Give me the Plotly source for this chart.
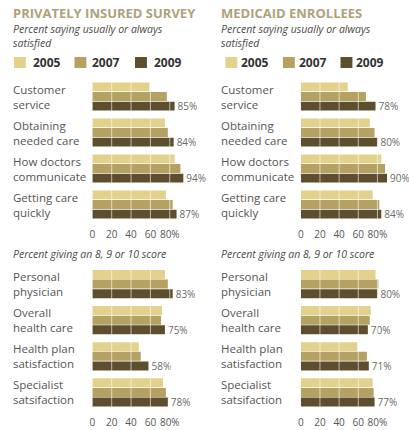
import plotly.graph_objects as go

W, H = 409, 430

years = ["2005", "2007", "2009"]
colors = ["#E2D28C", "#B5A263", "#5C4E2F"]

top_cats = ["Customer<br>service", "Obtaining<br>needed care", "How doctors<br>communicate", "Getting care<br>quickly"]
bot_cats = ["Personal<br>physician", "Overall<br>health care", "Health plan<br>satisfaction", "Specialist<br>satsifaction"]

priv_top_2005 = [59, 75, 85, 76]
priv_top_2007 = [77, 78, 91, 83]
priv_top_2009 = [85, 84, 94, 87]
med_top_2005 = [49, 72, 84, 75]
med_top_2007 = [68, 77, 88, 82]
med_top_2009 = [78, 80, 90, 84]

priv_bot_2005 = [75, 72, 48, 73]
priv_bot_2007 = [78, 71, 50, 76]
priv_bot_2009 = [83, 75, 58, 78]
med_bot_2005 = [78, 73, 59, 75]
med_bot_2007 = [81, 72, 69, 76]
med_bot_2009 = [80, 70, 71, 77]

tick_vals = [0, 20, 40, 60, 80]
tick_text = ["0", "20", "40", "60", "80%"]

titles = ["PRIVATELY INSURED SURVEY", "MEDICAID ENROLLEES"]
subtitle1 = ["Percent saying usually or always", "satisfied"]
subtitle2 = "Percent giving an 8, 9 or 10 score"

FONT = "Open Sans"
TXT = "#4a4a4a"

def px(x):
    return x / W

def py(y):
    return 1 - y / H

panels = [
    ("x", "y", top_cats, [priv_top_2005, priv_top_2007, priv_top_2009]),
    ("x2", "y2", top_cats, [med_top_2005, med_top_2007, med_top_2009]),
    ("x3", "y3", bot_cats, [priv_bot_2005, priv_bot_2007, priv_bot_2009]),
    ("x4", "y4", bot_cats, [med_bot_2005, med_bot_2007, med_bot_2009]),
]

fig = go.Figure()
for xa, ya, cats, series in panels:
    for i, (yr, vals) in enumerate(zip(years, series)):
        last = i == 2
        fig.add_trace(go.Bar(
            x=vals, y=cats, orientation="h", name=yr, xaxis=xa, yaxis=ya,
            marker=dict(color=colors[i], line=dict(width=0)),
            text=[f"{v}%" for v in vals] if last else None,
            textposition="outside" if last else "none",
            textfont=dict(family=FONT, size=10, color="#6a6a6a"),
            constraintext="none", cliponaxis=False, showlegend=False,
            hoverinfo="skip",
        ))

left_dom = [px(90), px(187.5)]
right_dom = [px(300), px(396.5)]
top_dom = [py(222.5), py(78.5)]
bot_dom = [py(410.5), py(266)]

xcommon = dict(range=[0, 100], tickvals=tick_vals, ticktext=tick_text, showgrid=False,
               zeroline=False, showline=False, ticks="outside", ticklen=2, tickcolor="rgba(0,0,0,0)",
               tickfont=dict(family=FONT, size=10, color="#555"), fixedrange=True)
ycommon = dict(autorange="reversed", showticklabels=False, showgrid=False, zeroline=False,
               showline=False, fixedrange=True)

fig.update_layout(
    width=W, height=H, margin=dict(l=0, r=0, t=0, b=0),
    paper_bgcolor="white", plot_bgcolor="white",
    barmode="group", bargap=0.2, bargroupgap=0.07,
    xaxis=dict(domain=left_dom, anchor="y", **xcommon),
    xaxis2=dict(domain=right_dom, anchor="y2", **xcommon),
    xaxis3=dict(domain=left_dom, anchor="y3", **xcommon),
    xaxis4=dict(domain=right_dom, anchor="y4", **xcommon),
    yaxis=dict(domain=top_dom, anchor="x", **ycommon),
    yaxis2=dict(domain=top_dom, anchor="x2", **ycommon),
    yaxis3=dict(domain=bot_dom, anchor="x3", **ycommon),
    yaxis4=dict(domain=bot_dom, anchor="x4", **ycommon),
    showlegend=False,
)

shapes = []
annotations = []

# grid lines over bars
for xa, ya in [("x", "y"), ("x2", "y2"), ("x3", "y3"), ("x4", "y4")]:
    for tv in tick_vals[1:]:
        shapes.append(dict(type="line", xref=xa, yref=f"{ya} domain", x0=tv, x1=tv, y0=0, y1=1,
                           line=dict(color="rgba(255,255,255,0.6)", width=1), layer="above"))

# category labels
for ya, cats, x0 in [("y", top_cats, 8), ("y2", top_cats, 218), ("y3", bot_cats, 8), ("y4", bot_cats, 218)]:
    for c in cats:
        annotations.append(dict(text=c, xref="paper", yref=ya, x=px(x0), y=c, xanchor="left",
                                yanchor="middle", align="left", showarrow=False,
                                font=dict(family=FONT, size=11.5, color="#555")))

# titles and subtitles
for k, x0 in enumerate([8, 218]):
    annotations.append(dict(text=f"<b>{titles[k]}</b>", xref="paper", yref="paper", x=px(x0), y=py(13),
                            xanchor="left", yanchor="middle", showarrow=False,
                            font=dict(family=FONT, size=13, color="#ADA27B")))
    annotations.append(dict(text="<i>" + "<br>".join(subtitle1) + "</i>", xref="paper", yref="paper",
                            x=px(x0), y=py(35.5), xanchor="left", yanchor="middle", align="left",
                            showarrow=False, font=dict(family=FONT, size=10.5, color=TXT)))
    annotations.append(dict(text=f"<i>{subtitle2}</i>", xref="paper", yref="paper", x=px(x0), y=py(254),
                            xanchor="left", yanchor="middle", showarrow=False,
                            font=dict(family=FONT, size=10.5, color=TXT)))

# legends
leg_left = [(11, 28), (72, 88), (133, 150)]
leg_right = [(224, 238), (282, 296), (340, 354)]
for leg in (leg_left, leg_right):
    for i, (sx, tx) in enumerate(leg):
        shapes.append(dict(type="rect", xref="paper", yref="paper", x0=px(sx), x1=px(sx + 12),
                           y0=py(68), y1=py(57), fillcolor=colors[i], line=dict(width=0)))
        annotations.append(dict(text=f"<b>{years[i]}</b>", xref="paper", yref="paper", x=px(tx), y=py(62.5),
                                xanchor="left", yanchor="middle", showarrow=False,
                                font=dict(family=FONT, size=12, color="#333")))

fig.update_layout(shapes=shapes, annotations=annotations)
fig.write_html("out.html")
